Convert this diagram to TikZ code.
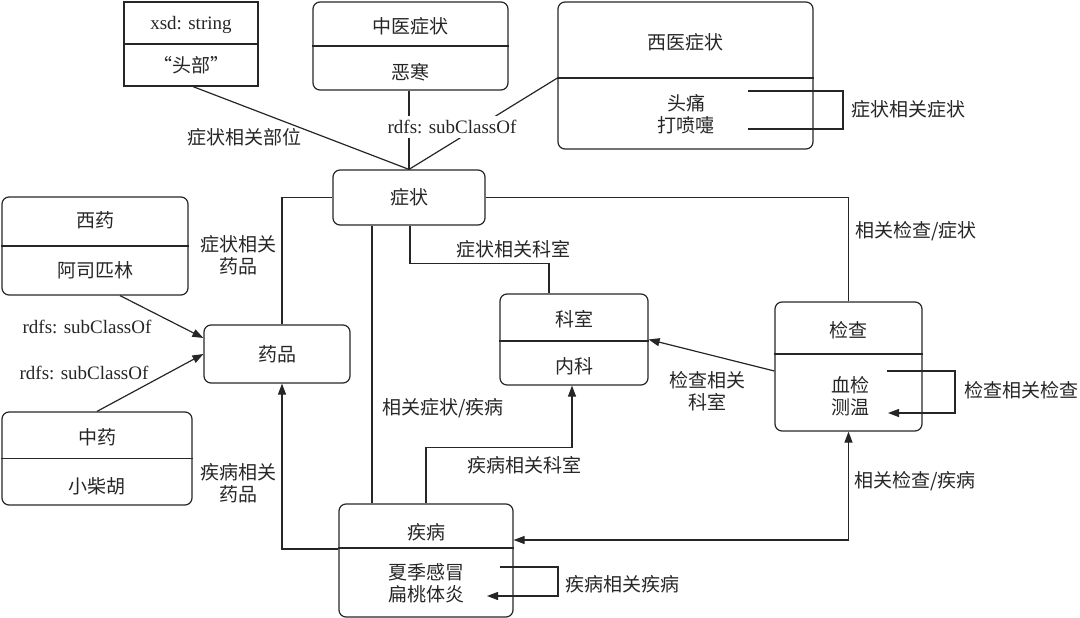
\documentclass[tikz,border=0pt]{standalone}
\usepackage{fontspec}
\setmainfont{Liberation Serif}
\newfontfamily\cjk{Noto Sans CJK SC}
\usetikzlibrary{arrows.meta}
\begin{document}
\begin{tikzpicture}[x=1pt,y=-1pt, line width=1.2pt, draw=black!85,
  box/.style={draw=black!85, rounded corners=7pt, inner sep=0pt},
  sbox/.style={draw=black!85, inner sep=0pt},
  txt/.style={font=\fontsize{19}{22}\selectfont\cjk, align=center, inner sep=1pt, text=black!85},
  lat/.style={font=\fontsize{19}{22}\selectfont, inner sep=1pt, text=black!85},
  arr/.style={-{Triangle[length=11pt,width=8pt]}},
  darr/.style={{Triangle[length=11pt,width=8pt]}-{Triangle[length=11pt,width=8pt]}},
  ]
\useasboundingbox (0,0) rectangle (1080,618);

% boxes
\node[sbox, minimum width=134pt, minimum height=84pt] (xsd) at (191,44) {};
\node[lat] (xsdT) at (191,25) {xsd: string};
\node[txt] (xsdV) at (191,65) {“头部”};
\draw (xsd.west) -- (xsd.east);

\node[box, minimum width=195pt, minimum height=88pt] (zy) at (410.5,46) {};
\node[txt] (zyT) at (410,26) {中医症状};
\node[txt] (zyV) at (410,72) {恶寒};
\draw (zy.west) -- (zy.east);

\node[box, minimum width=255pt, minimum height=147pt] (xy) at (685.5,75.5) {};
\node[txt] (xyT) at (685,42) {西医症状};
\node[txt] (xyV) at (686,114.5) {头痛\\打喷嚏};
\draw ([yshift=-2.5pt]xy.west) -- ([yshift=-2.5pt]xy.east);

\node[box, txt, minimum width=152pt, minimum height=55pt] (zz) at (409,197.5) {症状};

\node[box, minimum width=186pt, minimum height=98pt] (xiyao) at (95,246) {};
\node[txt] (xiyaoT) at (95,220) {西药};
\node[txt] (xiyaoV) at (95,270) {阿司匹林};
\draw (xiyao.west) -- (xiyao.east);

\node[box, minimum width=190pt, minimum height=93pt] (zhongyao) at (97,458.5) {};
\node[txt] (zhongyaoT) at (97,437) {中药};
\node[txt] (zhongyaoV) at (97,486) {小柴胡};
\draw (zhongyao.west) -- (zhongyao.east);

\node[box, txt, minimum width=146pt, minimum height=58pt] (yp) at (277,354) {药品};

\node[box, minimum width=148pt, minimum height=91pt] (ks) at (574,339.5) {};
\node[txt] (ksT) at (574,319) {科室};
\node[txt] (ksV) at (574,366) {内科};
\draw ([yshift=-1.5pt]ks.west) -- ([yshift=-1.5pt]ks.east);

\node[box, minimum width=147pt, minimum height=129pt] (jc) at (848.5,366.5) {};
\node[txt] (jcT) at (848,330) {检查};
\node[txt] (jcV) at (850,396) {血检\\测温};
\draw ([yshift=12.5pt]jc.west) -- ([yshift=12.5pt]jc.east);

\node[box, minimum width=174pt, minimum height=113pt] (jb) at (426,560.5) {};
\node[txt] (jbT) at (426,532) {疾病};
\node[txt] (jbV) at (426,583.5) {夏季感冒\\扁桃体炎};
\draw ([yshift=12.5pt]jb.west) -- ([yshift=12.5pt]jb.east);

% connectors to symptom
\draw ([xshift=2pt]xsd.south) -- (zz.north);
\draw (zy.south -| zz.north) -- (zz.north);
\draw ([yshift=-2.5pt]xy.west) -- (zz.north);

% medicine subclass
\draw[arr] ([xshift=25pt]xiyao.south) -- ([yshift=16pt]yp.west);
\draw[arr] (zhongyao.north) -- (yp.west);

% symptom - medicine
\draw ([xshift=5pt]yp.north) |- (zz.west);
% disease -> medicine
\draw[arr] ([yshift=11.5pt]jb.west) -| ([xshift=5pt]yp.south);
% symptom - disease
\draw ([xshift=-37pt]zz.south) -- ([xshift=-37pt]zz.south |- jb.north);
% symptom - department
\draw ([xshift=1pt]zz.south) -- ++(0,38) -| ([xshift=-25pt]ks.north);
% disease -> department
\draw[arr] (jb.north) -- ++(0,-56) -| ([xshift=-2pt]ks.south);
% exam -> department
\draw[arr] ([yshift=-4.5pt]jc.west) -- (ks.east);
% symptom - exam
\draw (zz.east) -| (jc.north);
% disease <-> exam
\draw[darr] ([yshift=20.5pt]jb.east) -| (jc.south);

% self loops
\coordinate (xyA) at (748,91);
\coordinate (xyB) at (748,129);
\draw (xyA) -- (843,91) -- (843,129) -- (xyB);
\coordinate (jcA) at (887,371);
\coordinate (jcB) at (888,413);
\draw[arr] (jcA) -- (955,371) -- (955,413) -- (jcB);
\coordinate (jbA) at (500,567);
\coordinate (jbB) at (487,596);
\draw[arr] (jbA) -- (558,567) -- (558,596) -- (jbB);

% labels
\node[txt] (l1) at (908,109) {症状相关症状};
\node[txt] (l2) at (244,137) {症状相关部位};
\node[lat, fill=white, inner sep=4pt] (l3) at (452,127) {rdfs: subClassOf};
\node[txt] (l4) at (238,255) {症状相关\\药品};
\node[lat] (l5) at (87,327) {rdfs: subClassOf};
\node[lat] (l6) at (84,373) {rdfs: subClassOf};
\node[txt] (l7) at (238,483) {疾病相关\\药品};
\node[txt] (l8) at (513,249) {症状相关科室};
\node[txt] (l9) at (707,391) {检查相关\\科室};
\node[txt] (l10) at (443,408) {相关症状/疾病};
\node[txt] (l11) at (524,465) {疾病相关科室};
\node[txt] (l12) at (1021,390) {检查相关检查};
\node[txt] (l13) at (915,481) {相关检查/疾病};
\node[txt] (l14) at (916,231) {相关检查/症状};
\node[txt] (l15) at (622,584) {疾病相关疾病};
\end{tikzpicture}
\end{document}
